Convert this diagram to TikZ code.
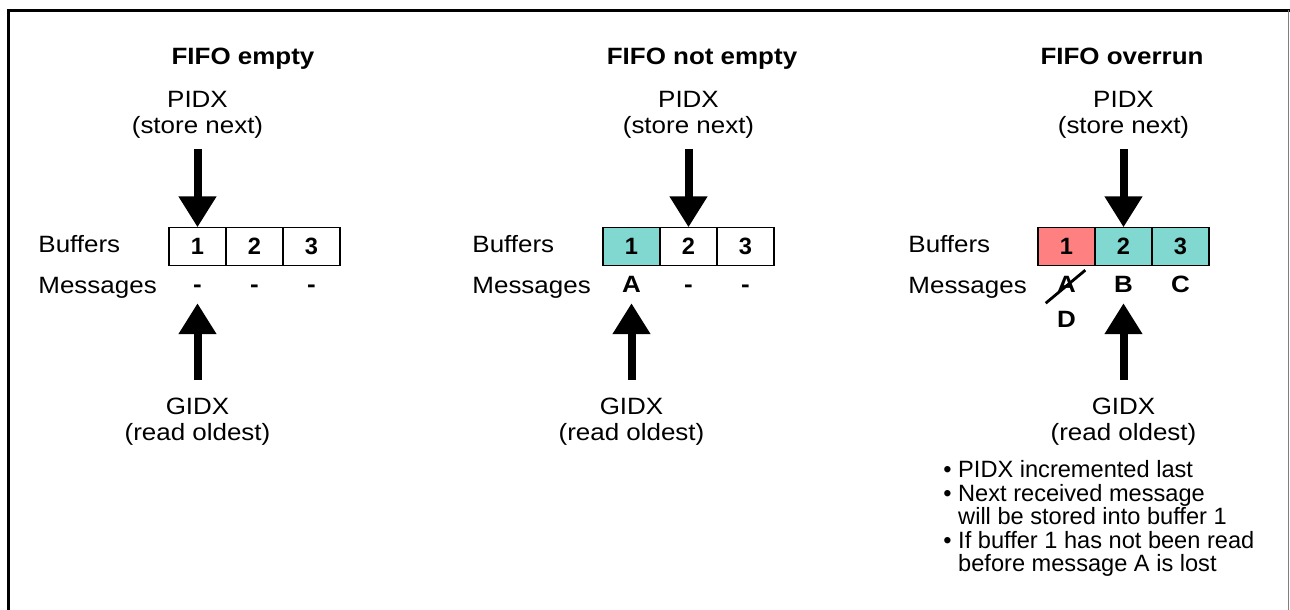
\documentclass[tikz,border=0pt]{standalone}
\usepackage{fontspec}
\setmainfont{Liberation Sans}
\usetikzlibrary{arrows.meta, positioning}
\definecolor{fifoteal}{RGB}{128,216,208}
\definecolor{fifored}{RGB}{255,128,128}

\begin{document}
\begin{tikzpicture}[x=0.5pt,y=-0.5pt,
		txt/.style={inner sep=0pt,xscale=1.1,font=\fontsize{11.8}{13}\selectfont},
		heading/.style={txt,anchor=base,font=\fontsize{11.8}{13}\selectfont\bfseries},
		idx/.style={txt,align=center,anchor=north},
		buf/.style={draw,line width=0.6pt,minimum width=28.5pt,minimum height=19pt,inner sep=0pt,outer sep=0pt,font=\fontsize{11.8}{13}\selectfont\bfseries},
		msg/.style={txt,anchor=base,font=\fontsize{11.8}{13}\selectfont\bfseries},
		fat/.style={line width=4pt,-{Triangle[width=18pt,length=15.5pt]}}]
		\useasboundingbox (0,0) rectangle (1290,610);
		
		% frame
		\draw[line width=1.5pt] (8.5,610) -- (8.5,10.5) -- (1290,10.5);
		\draw[gray,line width=0.5pt] (1288.5,10.5) -- (1288.5,610);
		
		% FIFO empty
		\node[heading] (t1) at (243,65) {FIFO empty};
		\node[idx] (p1) at (197.5,91) {PIDX\\(store next)};
		\node[buf] (b11) at (197.5,246.3) {1};
		\node[buf] (b12) [right=0pt of b11] {2};
		\node[buf] (b13) [right=0pt of b12] {3};
		\node[txt,anchor=base west] (bl1) at (38,252) {Buffers};
		\node[txt,anchor=base west] (ml1) at (38,293) {Messages};
		\node[msg] (m11) at ([yshift=-13.75pt]b11.south) {-};
		\node[msg] (m12) at ([yshift=-13.75pt]b12.south) {-};
		\node[msg] (m13) at ([yshift=-13.75pt]b13.south) {-};
		\node[idx] (g1) at (197.5,398) {GIDX\\(read oldest)};
		\draw[fat,shorten <=5pt] (p1.south) -- (b11.north);
		\draw[fat,shorten <=9pt,shorten >=5pt] (g1.north) -- (m11.south);
		
		% FIFO not empty
		\node[heading] (t2) at (702,65) {FIFO not empty};
		\node[idx] (p2) at (688.5,91) {PIDX\\(store next)};
		\node[buf,fill=fifoteal] (b21) at (631.5,246.3) {1};
		\node[buf] (b22) [right=0pt of b21] {2};
		\node[buf] (b23) [right=0pt of b22] {3};
		\node[txt,anchor=base west] (bl2) at (472,252) {Buffers};
		\node[txt,anchor=base west] (ml2) at (472,293) {Messages};
		\node[msg] (m21) at ([yshift=-13.75pt]b21.south) {A};
		\node[msg] (m22) at ([yshift=-13.75pt]b22.south) {-};
		\node[msg] (m23) at ([yshift=-13.75pt]b23.south) {-};
		\node[idx] (g2) at (631.5,398) {GIDX\\(read oldest)};
		\draw[fat,shorten <=5pt] (p2.south) -- (b22.north);
		\draw[fat,shorten <=9pt,shorten >=5pt] (g2.north) -- (m21.south);
		
		% FIFO overrun
		\node[heading] (t3) at (1122,65) {FIFO overrun};
		\node[idx] (p3) at (1123.5,91) {PIDX\\(store next)};
		\node[buf,fill=fifored] (b31) at (1066.5,246.3) {1};
		\node[buf,fill=fifoteal] (b32) [right=0pt of b31] {2};
		\node[buf,fill=fifoteal] (b33) [right=0pt of b32] {3};
		\node[txt,anchor=base west] (bl3) at (908,252) {Buffers};
		\node[txt,anchor=base west] (ml3) at (908,293) {Messages};
		\node[msg] (m31) at ([yshift=-13.75pt]b31.south) {A};
		\node[msg] (m32) at ([yshift=-13.75pt]b32.south) {B};
		\node[msg] (m33) at ([yshift=-13.75pt]b33.south) {C};
		\node[msg] (m34) at ([yshift=-17.5pt]m31.base) {D};
		\draw[line width=1.4pt] ([shift={(-11,10)}]m31.south west) -- ([shift={(9,-6)}]m31.north east);
		\node[idx] (g3) at (1123.5,398) {GIDX\\(read oldest)};
		\draw[fat,shorten <=5pt] (p3.south) -- (b32.north);
		\draw[fat,shorten <=9pt,shorten >=5pt] (g3.north) -- (m32.south);
		\node[txt,xscale=1/1.1,anchor=north west,align=left,font=\fontsize{11.8}{11.75}\selectfont] (notes) at (943,460)
		{• PIDX incremented last\\• Next received message\\\phantom{• }will be stored into buffer 1\\• If buffer 1 has not been read\\\phantom{• }before message A is lost};
		
\end{tikzpicture}
\end{document}
